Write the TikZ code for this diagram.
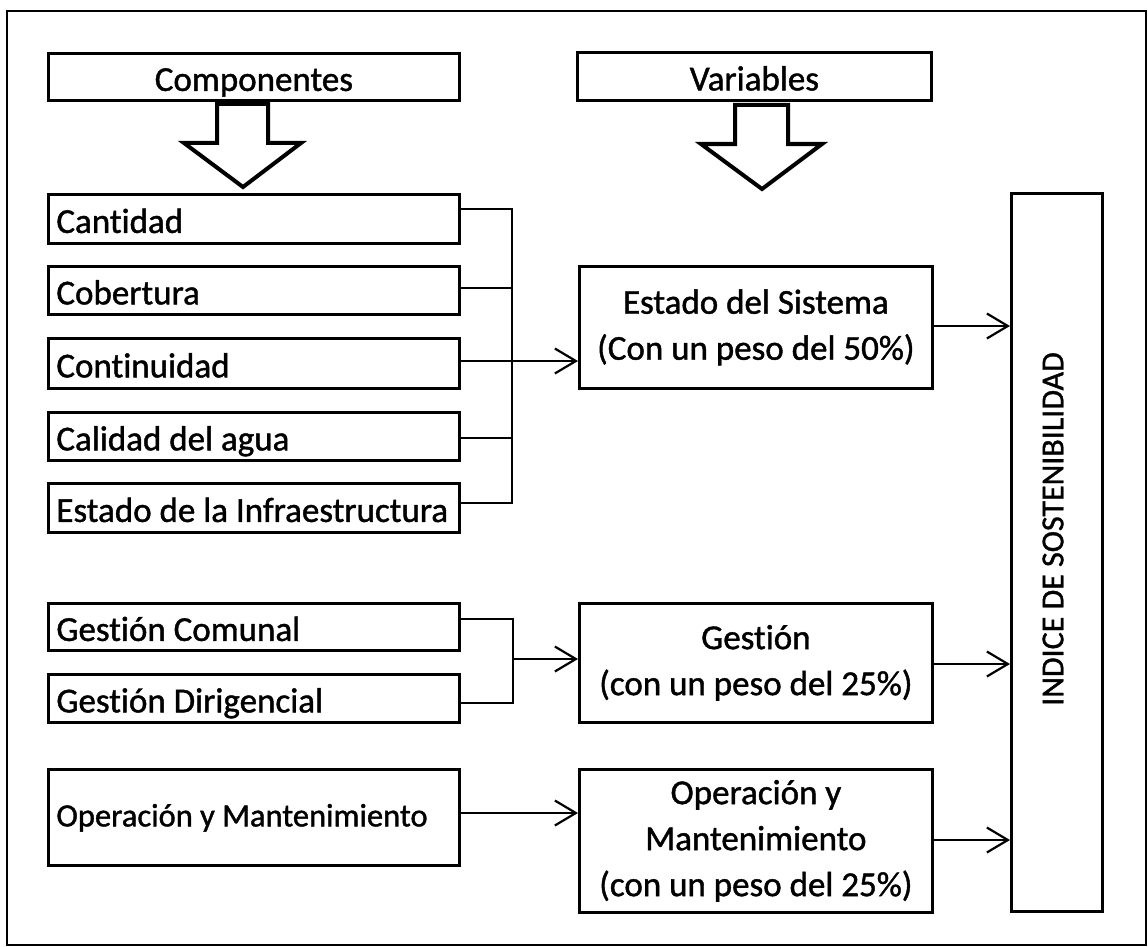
\documentclass[tikz,border=0pt]{standalone}
\usepackage{fontspec}
\setmainfont{Carlito}[Ligatures=NoCommon, FakeBold=1.2]
\usetikzlibrary{arrows.meta}
\begin{document}
\begin{tikzpicture}[x=1pt,y=-1pt,
  boxbase/.style={draw=black, line width=2.8pt, fill=white, inner ysep=0pt,
    font=\fontsize{35}{46}\selectfont},
  lbox/.style={boxbase, anchor=north west, text width=395pt, inner xsep=8pt,
    align=flush left, text height=31pt, text depth=3pt},
  hbox/.style={boxbase, anchor=north west, align=center, inner xsep=0pt,
    text height=31pt, text depth=3pt},
  vbox/.style={boxbase, anchor=north west, align=center, minimum width=353pt, inner xsep=0pt},
  conn/.style={draw=black, line width=2.2pt},
  arr/.style={conn, -{Straight Barb[length=21pt,width=25pt]}},
  blockarrow/.style={draw=black, line width=4pt, fill=white, line join=miter},
  frame/.style={draw=black, line width=2.6pt}
]
\useasboundingbox (0,0) rectangle (1148,947);
\draw[frame] (7,11) rectangle (1146,945);

% headers
\node[hbox, minimum width=411pt, minimum height=47pt] (comp) at (47,52) {Componentes};
\node[hbox, minimum width=354pt, minimum height=48pt] (vars) at (576,51) {Variables};

% block arrows
\draw[blockarrow] (217,104) -- (268,104) -- (268,143) -- (301,143) -- (243,187) -- (184,143) -- (217,143) -- cycle;
\draw[blockarrow] (735,105) -- (788,105) -- (788,144) -- (822,144) -- (762,189) -- (701,144) -- (735,144) -- cycle;

% components
\node[lbox, minimum height=49pt] (cant) at (47,193) {Cantidad};
\node[lbox, minimum height=48pt] (cob) at (47,265) {Cobertura};
\node[lbox, minimum height=50pt] (cont) at (47,337) {Continuidad};
\node[lbox, minimum height=48pt] (cal) at (47,411) {Calidad del agua};
\node[lbox, minimum height=49pt] (infra) at (47,482) {\mbox{Estado de la Infraestructura}};
\node[lbox, minimum height=47pt] (gc) at (47,602) {Gestión Comunal};
\node[lbox, minimum height=48pt] (gd) at (47,673) {Gestión Dirigencial};
\node[lbox, minimum height=96pt, text height=27pt, text depth=9pt, font=\fontsize{32.5}{40}\selectfont] (om) at (47,768) {\mbox{Operación y Mantenimiento}};

% variables
\node[vbox, minimum height=122pt] (est) at (578,265) {Estado del Sistema\\(Con un peso del 50\%)};
\node[vbox, minimum height=119pt] (gest) at (578,602) {Gestión\\(con un peso del 25\%)};
\node[vbox, minimum height=143pt] (omv) at (578,768) {Operación y\\Mantenimiento\\(con un peso del 25\%)};

% index
\node[draw=black, line width=2.8pt, anchor=north west, minimum width=91pt, minimum height=718pt, inner sep=0pt] (idx) at (1010,192) {};
\node[rotate=90, font=\fontsize{32}{36}\selectfont, inner sep=0pt] (idxlabel) at (1053,529) {INDICE DE SOSTENIBILIDAD};

% bus coordinates
\coordinate (b1) at (512,209);
\coordinate (b2) at (512,288);
\coordinate (b3) at (512,361);
\coordinate (b4) at (512,438);
\coordinate (b5) at (512,503);
\coordinate (g1) at (513,619);
\coordinate (g2) at (513,703);
\coordinate (gm) at (513,659);
\coordinate (o1) at (0,813);
\coordinate (r1) at (0,326);
\coordinate (r2) at (0,664);
\coordinate (r3) at (0,840);

\draw[conn] (cant.east |- b1) -- (b1) -- (b5) -- (infra.east |- b5);
\draw[conn] (cob.east |- b2) -- (b2);
\draw[conn] (cal.east |- b4) -- (b4);
\draw[arr] (cont.east |- b3) -- (est.west |- b3);

\draw[conn] (gc.east |- g1) -- (g1) -- (g2) -- (gd.east |- g2);
\draw[arr] (gm) -- (gest.west |- gm);

\draw[arr] (om.east |- o1) -- (omv.west |- o1);

\draw[arr] (est.east |- r1) -- (idx.west |- r1);
\draw[arr] (gest.east |- r2) -- (idx.west |- r2);
\draw[arr] (omv.east |- r3) -- (idx.west |- r3);
\end{tikzpicture}
\end{document}
